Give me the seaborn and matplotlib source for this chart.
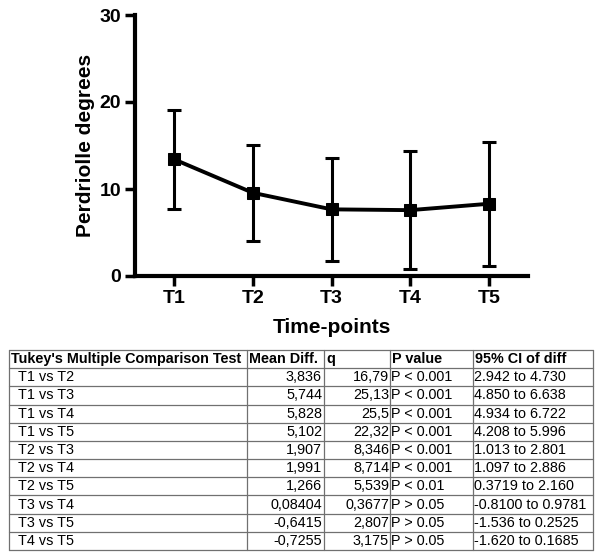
import matplotlib
matplotlib.use("Agg")
import matplotlib.pyplot as plt
import seaborn as sns
import pandas as pd

timepoints = ["T1", "T2", "T3", "T4", "T5"]
means = [13.4, 9.56, 7.66, 7.57, 8.30]
sds = [5.7, 5.55, 5.95, 6.75, 7.1]

col_headers = ["Tukey's Multiple Comparison Test", "Mean Diff.", "q", "P value", "95% CI of diff"]
comparisons = ["T1 vs T2", "T1 vs T3", "T1 vs T4", "T1 vs T5", "T2 vs T3",
               "T2 vs T4", "T2 vs T5", "T3 vs T4", "T3 vs T5", "T4 vs T5"]
mean_diff = ["3,836", "5,744", "5,828", "5,102", "1,907", "1,991", "1,266", "0,08404", "-0,6415", "-0,7255"]
q_vals = ["16,79", "25,13", "25,5", "22,32", "8,346", "8,714", "5,539", "0,3677", "2,807", "3,175"]
p_vals = ["P < 0.001", "P < 0.001", "P < 0.001", "P < 0.001", "P < 0.001", "P < 0.001",
          "P < 0.01", "P > 0.05", "P > 0.05", "P > 0.05"]
ci_vals = ["2.942 to 4.730", "4.850 to 6.638", "4.934 to 6.722", "4.208 to 5.996", "1.013 to 2.801",
           "1.097 to 2.886", "0.3719 to 2.160", "-0.8100 to 0.9781", "-1.536 to 0.2525", "-1.620 to 0.1685"]

sns.set_theme(style="ticks")
plt.rcParams['font.family'] = ['Liberation Sans', 'DejaVu Sans']
plt.rcParams.update({"text.color": "black", "axes.labelcolor": "black",
                     "xtick.color": "black", "ytick.color": "black",
                     "axes.edgecolor": "black"})

W, H = 600, 560
fig = plt.figure(figsize=(6, 5.6), dpi=100)
ax = fig.add_axes([135 / W, 1 - 276 / H, (528 - 135) / W, (276 - 15) / H])

df = pd.DataFrame({"x": range(len(timepoints)), "mean": means, "sd": sds})
ax.errorbar(df["x"], df["mean"], yerr=df["sd"], fmt="none", ecolor="black",
            elinewidth=2.2, capsize=5, capthick=2.2, zorder=2)
sns.lineplot(data=df, x="x", y="mean", color="black", linewidth=2.8, marker="s",
             markersize=9, markeredgecolor="black", ax=ax, zorder=3)

ax.set_xlim(-0.5, 4.5)
ax.set_ylim(0, 30)
ax.set_xticks(range(len(timepoints)))
ax.set_xticklabels(timepoints)
ax.set_yticks([0, 10, 20, 30])
for s in ["top", "right"]:
    ax.spines[s].set_visible(False)
for s in ["left", "bottom"]:
    ax.spines[s].set_linewidth(3)
ax.tick_params(axis="both", direction="out", length=7, width=2.5, labelsize=14, pad=3)
for lab in ax.get_xticklabels() + ax.get_yticklabels():
    lab.set_fontweight("bold")
ax.set_xlabel("Time-points", fontsize=15, fontweight="bold", labelpad=8)
ax.set_ylabel("Perdriolle degrees", fontsize=15, fontweight="bold", labelpad=3)

# Table
tax = fig.add_axes([0, 0, 1, 1])
tax.set_xlim(0, W)
tax.set_ylim(H, 0)
tax.axis("off")
col_x = [9, 247, 324, 390, 473, 593]
top, bottom = 350, 550
nrows = len(comparisons) + 1
rh = (bottom - top) / nrows
lc = "#707070"
for i in range(nrows + 1):
    y = top + i * rh
    tax.plot([col_x[0], col_x[-1]], [y, y], color=lc, lw=0.9)
for x in col_x:
    tax.plot([x, x], [top, bottom], color=lc, lw=0.9)

fs = 10.4
yc = top + rh / 2
for j, h in enumerate(col_headers):
    tax.text(col_x[j] + 2, yc, h, ha="left", va="center", fontsize=fs, fontweight="bold")
for i in range(len(comparisons)):
    yc = top + (i + 1) * rh + rh / 2
    tax.text(col_x[0] + 9, yc, comparisons[i], ha="left", va="center", fontsize=fs)
    tax.text(col_x[2] - 2, yc, mean_diff[i], ha="right", va="center", fontsize=fs)
    tax.text(col_x[3] - 1, yc, q_vals[i], ha="right", va="center", fontsize=fs)
    tax.text(col_x[3] + 1, yc, p_vals[i], ha="left", va="center", fontsize=fs)
    tax.text(col_x[4] + 1, yc, ci_vals[i], ha="left", va="center", fontsize=fs)

fig.savefig("out.png", dpi=100)
